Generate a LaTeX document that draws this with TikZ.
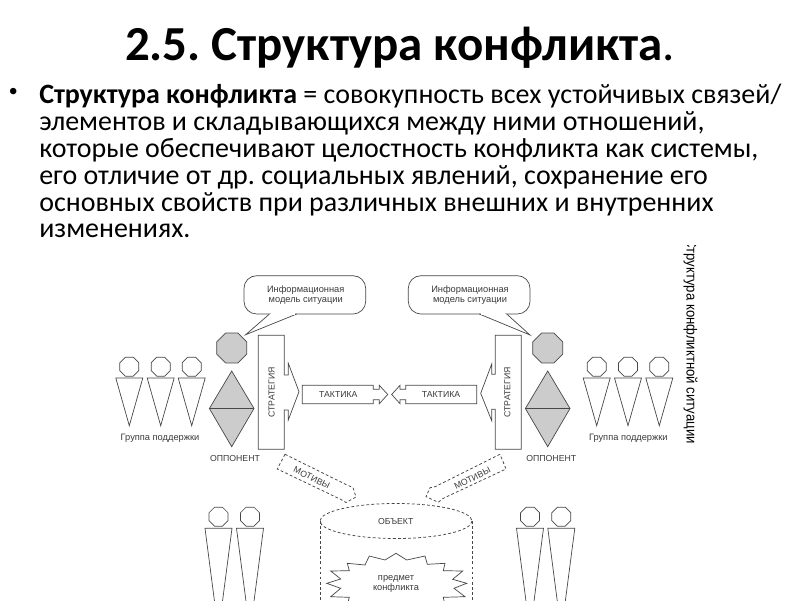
\documentclass[tikz,border=0pt]{standalone}
\usepackage{fontspec}
\setmainfont{Carlito}
\newfontfamily\figfont{Liberation Sans}
\newfontfamily\sidefont[FakeStretch=0.9]{Liberation Sans}
\usetikzlibrary{positioning,shapes.geometric}
\definecolor{figLine}{HTML}{474747}
\definecolor{figGray}{HTML}{CCCCCC}
\definecolor{figText}{HTML}{3A3A3A}
\frenchspacing
\tikzset{
  % Slide text
  slidetitle/.style={font=\fontsize{34.8}{40}\selectfont\bfseries, text=black, inner sep=0pt, anchor=base},
  slidebody/.style={font=\fontsize{19.9}{19.1}\selectfont, text=black, inner sep=0pt, align=left, anchor=north west},
  % Figure shapes
  figshape/.style={draw=figLine, line width=0.5pt, fill=white},
  grayshape/.style={figshape, fill=figGray},
  dashline/.style={draw=figLine, line width=0.55pt, dash pattern=on 2pt off 1.6pt},
  head/.style={figshape, regular polygon, regular polygon sides=8, minimum size=5.15mm, inner sep=0pt},
  bighead/.style={grayshape, regular polygon, regular polygon sides=8, minimum size=8.1mm, inner sep=0pt},
  figlabel/.style={font=\figfont\fontsize{6.6}{7.1}\selectfont, text=figText, inner sep=0pt, align=center},
  figcaps/.style={figlabel, font=\figfont\fontsize{6.2}{7.1}\selectfont},
}
\begin{document}
\begin{tikzpicture}[x=0.25mm,y=-0.25mm]
  \useasboundingbox (0,0) rectangle (800,600);
  \clip (0,0) rectangle (800,600);

  % heading and definition
  \node[slidetitle] (title) at (400,60) {2.5. Структура конфликта{\mdseries .}};
  \node[font=\figfont\fontsize{17}{19}\selectfont, inner sep=0pt] (bullet) at (13.3,94) {\textbullet};
  \node[slidebody] (body) at (39,84) {\textbf{Структура конфликта} = совокупность всех устойчивых связей/\\
    элементов и складывающихся между ними отношений,\\
    которые обеспечивают целостность конфликта как системы,\\
    его отличие от др. социальных явлений, сохранение его\\
    основных свойств при различных внешних и внутренних\\
    изменениях.};

  % support groups, top row
  \foreach \px [count=\i] in {129.3,160.7,191.7,596.7,628,659.3}{
    \node[head] (top\i) at (\px,366.7) {};
    \draw[figshape] (\px-13.5,378) -- (\px+13.5,378) -- (\px,425.7) -- cycle;}
  \node[figlabel] (groupL) at (160,438.7) {Группа поддержки};
  \node[figlabel] (groupR) at (628.3,438.7) {Группа поддержки};

  % opponents
  \foreach \px/\name/\lx in {231.7/L/235,547.7/R/551.3}{
    \node[bighead] (boss\name) at (\px,348) {};
    \draw[grayshape] (\px,371) -- (\px+22.3,408.5) -- (\px,446.7) -- (\px-22.3,408.5) -- cycle;
    \draw[figshape] (\px-22.3,408.5) -- (\px+22.3,408.5);
    \node[figcaps] (opp\name) at (\lx,458.3) {ОППОНЕНТ};}

  % speech bubbles
  \draw[figshape, rounded corners=9pt] (244,275.7) rectangle (365.7,314);
  \draw[figshape, rounded corners=9pt] (408.3,275.7) rectangle (530,314);
  \draw[figshape, line join=miter] (269.5,314) -- (245.7,334.7) -- (296.7,314);
  \draw[figshape, line join=miter] (479.3,314) -- (530,335) -- (506.7,314);
  \draw[white, line width=1pt] (271,314) -- (295,314);
  \draw[white, line width=1pt] (481,314) -- (505,314);
  \node[figlabel] (infoL) at (305.7,295) {Информационная\\модель ситуации};
  \node[figlabel] (infoR) at (470,295) {Информационная\\модель ситуации};

  % strategy bars with arrows
  \draw[figshape] (258.3,335.3) -- (284.3,335.3) -- (284.3,375) -- (288.3,375) -- (288.3,363.3)
    -- (299,391.7) -- (288.3,420) -- (288.3,410) -- (284.3,410) -- (284.3,449.3) -- (258.3,449.3) -- cycle;
  \draw[figshape] (521.3,335.3) -- (495.3,335.3) -- (495.3,374.3) -- (491.7,374.3) -- (491.7,364)
    -- (480.7,393.3) -- (491.7,420.7) -- (491.7,409.3) -- (495.3,409.3) -- (495.3,449.3) -- (521.3,449.3) -- cycle;
  \node[figcaps, rotate=90] (stratL) at (271.7,392.3) {СТРАТЕГИЯ};
  \node[figcaps, rotate=90] (stratR) at (507.3,392.3) {СТРАТЕГИЯ};

  % tactics arrows
  \draw[figshape] (302.3,385.3) -- (373.3,385.3) -- (373.3,389.3) -- (379.3,389.3) -- (379.3,385.3)
    -- (387.7,394.5) -- (379.3,403.7) -- (379.3,399.7) -- (373.3,399.7) -- (373.3,403.7) -- (302.3,403.7) -- cycle;
  \draw[figshape] (476.7,385.3) -- (405.7,385.3) -- (405.7,389.3) -- (400,389.3) -- (400,385.3)
    -- (391.7,394.5) -- (400,403.7) -- (400,399.7) -- (405.7,399.7) -- (405.7,403.7) -- (476.7,403.7) -- cycle;
  \node[figcaps] (tactL) at (338.3,394) {ТАКТИКА};
  \node[figcaps] (tactR) at (441,394) {ТАКТИКА};

  % motives
  \draw[dashline] (285,454.3) -- (347,485) -- (353,487.5) -- (356,497) -- (346,502.5) -- (341,499.5) -- (277.3,469) -- cycle;
  \draw[dashline] (500,454.3) -- (435,486.7) -- (430,487.7) -- (426,496.7) -- (438.3,502.3) -- (443.3,498.3) -- (506,469) -- cycle;
  \node[figcaps, rotate=-26] (motL) at (311.7,477.7) {МОТИВЫ};
  \node[figcaps, rotate=26] (motR) at (472.3,478.3) {МОТИВЫ};

  % object
  \draw[dashline] (396,521) ellipse [x radius=76, y radius=17.5];
  \draw[dashline] (320,521) -- (320,610);
  \draw[dashline] (472,521) -- (472,610);
  \node[figcaps] (object) at (395.7,521.7) {ОБЪЕКТ};

  % subject of the conflict
  \draw[figshape, fill=none] (330.7,571) -- (349.3,570.7) -- (347.3,563.3) -- (365,565) -- (369.3,556) -- (385,560)
    -- (396,553.3) -- (406.7,560) -- (425,556) -- (427.3,564.3) -- (445,563.3) -- (443.3,570.7) -- (462.7,571)
    -- (452.7,579.3) -- (466.7,583.3) -- (454,588.3) -- (465,596.7) -- (443.3,597.3) -- (445,606) -- (347,606)
    -- (349.3,597.3) -- (330.7,596.7) -- (340.7,588.3) -- (326.7,583.3) -- (340.7,579) -- cycle;
  \node[figlabel] (subject) at (396,584) {предмет\\конфликта};

  % support groups, bottom row
  \foreach \px [count=\i] in {218.5,250,530,561.3}{
    \node[head] (low\i) at (\px,516.7) {};
    \draw[figshape] (\px-13.5,528.3) -- (\px+13.5,528.3) -- (\px,632) -- cycle;}

  % side caption, cut off by the edge of the scan
  \begin{scope}
    \clip (670,245.5) rectangle (710,450);
    \node[font=\sidefont\fontsize{10.4}{11}\selectfont, text=black, inner sep=0pt, rotate=-90] (side) at (690.5,341) {Структура конфликтной ситуации};
  \end{scope}
\end{tikzpicture}
\end{document}
